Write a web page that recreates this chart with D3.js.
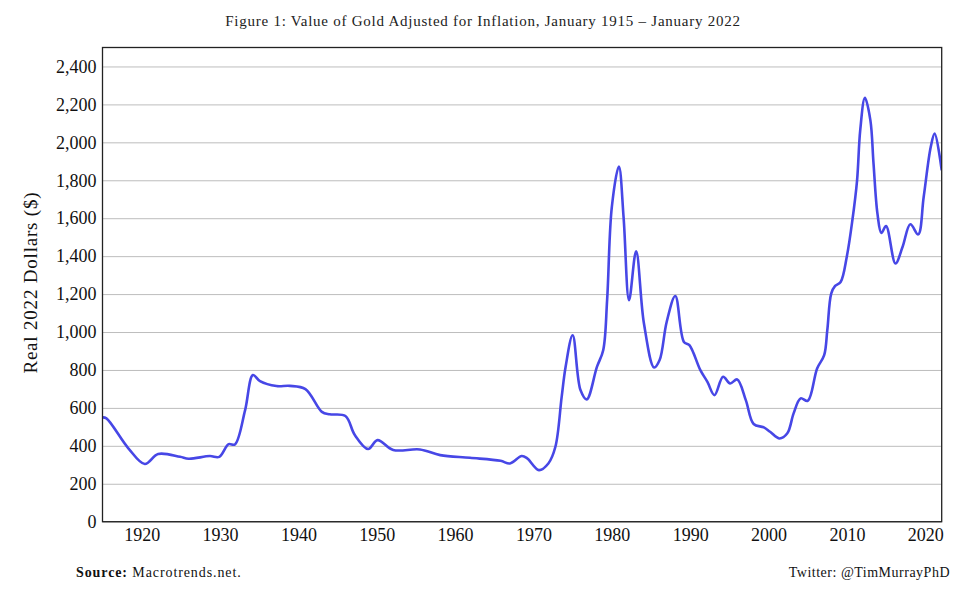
<!DOCTYPE html>
<html><head><meta charset="utf-8">
<script src="https://cdn.jsdelivr.net/npm/d3@7"></script>
<style>body{margin:0;background:#fff;} svg{display:block;}</style>
</head><body>
<svg id="c" width="971" height="596"></svg>
<script>
const years = [1915,1915.5,1918.3,1920.4,1922.1,1924.9,1926,1928.7,1929.9,1931.1,1931.9,1933.2,1934.2,1935.1,1937.2,1938.9,1940.9,1943,1944,1946,1947.2,1948.9,1950.1,1952.1,1955.5,1958.1,1961.9,1965.8,1967,1968.5,1969.2,1970.7,1971.9,1972.8,1973.6,1974.1,1975,1976,1976.8,1978.1,1978.9,1979.4,1980,1980.9,1981.5,1982.2,1983.1,1984.1,1985.4,1986.1,1987,1988.1,1989.2,1989.9,1991.3,1992.2,1993.1,1994.2,1995.1,1996,1997.1,1998.1,1999.4,2000.2,2001.4,2002.4,2003.2,2004.1,2005,2006.2,2007.1,2007.5,2008,2008.5,2009.2,2010,2010.7,2011.3,2011.7,2012.3,2013,2013.4,2013.9,2014.4,2015,2016.2,2017.1,2018.1,2019.1,2019.8,2020.7,2021.2,2022.1];
const values = [550,545,387,304,357,342,332,346,342,409,407,588,773,741,715,716,699,579,566,557,457,383,430,378,381,351,337,321,307,346,334,272,307,395,658,816,983,694,645,816,904,1168,1659,1873,1606,1168,1426,1045,813,852,1053,1190,948,931,799,737,667,764,729,750,641,515,497,474,439,466,571,650,637,808,878,1010,1203,1243,1264,1400,1589,1800,2063,2235,2116,1888,1624,1522,1559,1361,1448,1568,1515,1712,1975,2046,1852];
const yTicks = [0,200,400,600,800,1000,1200,1400,1600,1800,2000,2200,2400];
const xTicks = [1920,1930,1940,1950,1960,1970,1980,1990,2000,2010,2020];
const title = "Figure 1: Value of Gold Adjusted for Inflation, January 1915 \u2013 January 2022";
const yLabel = "Real 2022 Dollars ($)";

const svg = d3.select("#c");
const L=102.5, R=941.7, T=47.5, B=521.7;
const x = d3.scaleLinear().domain([1915,2022.1]).range([L,R]);
const y = d3.scaleLinear().domain([0,2500]).range([B,T]);
const font = "'Liberation Serif','DejaVu Serif',serif";

svg.append("text").attr("x",483).attr("y",26).attr("text-anchor","middle")
  .attr("font-family",font).attr("font-size",15).attr("letter-spacing","0.75px").attr("fill","#222").text(title);

// grid
svg.append("g").attr("transform",`translate(${L},0)`)
  .call(d3.axisLeft(y).tickValues(yTicks).tickSize(-(R-L)).tickFormat(""))
  .call(g=>g.select(".domain").remove())
  .call(g=>g.selectAll("line").attr("stroke","#bdbdbd").attr("stroke-width",1));

// y axis labels
svg.append("g").attr("transform",`translate(${L},0)`)
  .call(d3.axisLeft(y).tickValues(yTicks).tickSize(0).tickPadding(6).tickFormat(d3.format(",")))
  .call(g=>g.select(".domain").remove())
  .call(g=>g.selectAll("text").attr("font-family",font).attr("font-size",18).attr("fill","#111"));

// x axis labels
svg.append("g").attr("transform",`translate(0,${B})`)
  .call(d3.axisBottom(x).tickValues(xTicks).tickSize(0).tickPadding(7).tickFormat(d3.format("d")))
  .call(g=>g.select(".domain").remove())
  .call(g=>g.selectAll("text").attr("font-family",font).attr("font-size",18).attr("fill","#111"));

// line
svg.append("clipPath").attr("id","cp").append("rect")
  .attr("x",L).attr("y",T).attr("width",R-L).attr("height",B-T);
const pts = years.map((d,i)=>[d,values[i]]);
svg.append("path").datum(pts).attr("clip-path","url(#cp)")
  .attr("fill","none").attr("stroke","#4747e6").attr("stroke-width",2.6)
  .attr("stroke-linejoin","round")
  .attr("d",d3.line().x(d=>x(d[0])).y(d=>y(d[1])).curve(d3.curveCatmullRom.alpha(0.5)));

// frame
svg.append("rect").attr("x",L).attr("y",T).attr("width",R-L).attr("height",B-T)
  .attr("fill","none").attr("stroke","#222").attr("stroke-width",1.3);

// y label
svg.append("text").attr("transform",`translate(37,${(T+B)/2 - 2}) rotate(-90)`)
  .attr("text-anchor","middle").attr("font-family",font).attr("font-size",19).attr("letter-spacing","0.8px").attr("fill","#111").text(yLabel);

// footer
const src = svg.append("text").attr("x",76).attr("y",577).attr("font-family",font).attr("font-size",14).attr("letter-spacing","0.9px").attr("fill","#111");
src.append("tspan").attr("font-weight","bold").text("Source:");
src.append("tspan").text(" Macrotrends.net.");
svg.append("text").attr("x",950).attr("y",577).attr("text-anchor","end").attr("font-family",font).attr("font-size",14).attr("letter-spacing","0.5px").attr("fill","#111").text("Twitter: @TimMurrayPhD");
</script>
</body></html>
